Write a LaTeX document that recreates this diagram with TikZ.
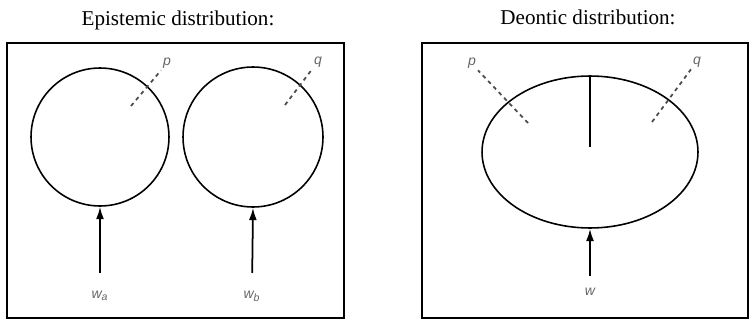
\documentclass[tikz,border=0pt]{standalone}
\usepackage{fontspec}
\setmainfont{Liberation Serif}
\newfontfamily\labfont{Liberation Sans}
\usetikzlibrary{arrows.meta,positioning,shapes.geometric,calc}

\tikzset{
  frame/.style={draw, line width=1.2pt},
  world/.style={draw, line width=0.9pt, inner sep=0pt},
  lab/.style={font=\labfont\itshape\fontsize{8}{9}\selectfont, text=black!60, inner sep=1pt},
  prop/.style={dash pattern=on 2.2pt off 2.2pt, line width=1pt, black!70},
  pull/.style={-{Latex[length=7pt,width=4.5pt]}, line width=1pt, shorten <=9pt},
  heading/.style={font=\fontsize{12}{14}\selectfont}
}

\begin{document}
\begin{tikzpicture}[x=0.02cm, y=-0.02cm]
        \useasboundingbox (0,0) rectangle (749,321);
        % epistemic side
        \node[heading] (ht1) at (178,20) {Epistemic distribution:};
        \draw[frame] (7,43) rectangle (344,318);
        \node[world, circle, minimum size=2.76cm] (ca) at (100,137) {};
        \node[world, circle, minimum size=2.8cm] (cb) at (253,137) {};
        \node[lab] (wa) at (100,296) {w\textsubscript{a}};
        \node[lab] (wb) at (252,296) {w\textsubscript{b}};
        \draw[pull] (wa.north) -- (ca.south);
        \draw[pull] (wb.north) -- (cb.south);
        \node[lab] (pa) at (167,63) {p};
        \node[lab] (qb) at (318,62) {q};
        \coordinate (pa0) at (131,106);
        \coordinate (qb0) at (285,105);
        \draw[prop] (pa0) -- (pa.south west);
        \draw[prop] (qb0) -- (qb.south west);
        % deontic side
        \node[heading] (ht2) at (588,17) {Deontic distribution:};
        \draw[frame] (422,43) rectangle (748,318);
        \node[world, ellipse, minimum width=4.32cm, minimum height=3.04cm] (de) at (590,152) {};
        \coordinate (mid) at (590,147);
        \draw[line width=1pt] (de.north) -- (mid);
        \node[lab] (w) at (590,292) {w};
        \draw[pull, shorten <=6pt] (w.north) -- (de.south);
        \node[lab] (pd) at (472,63) {p};
        \node[lab] (qd) at (697,62) {q};
        \coordinate (pd0) at (528,123);
        \coordinate (qd0) at (652,122);
        \draw[prop] (pd0) -- (pd.south east);
        \draw[prop] (qd0) -- (qd.south west);
\end{tikzpicture}
\end{document}
